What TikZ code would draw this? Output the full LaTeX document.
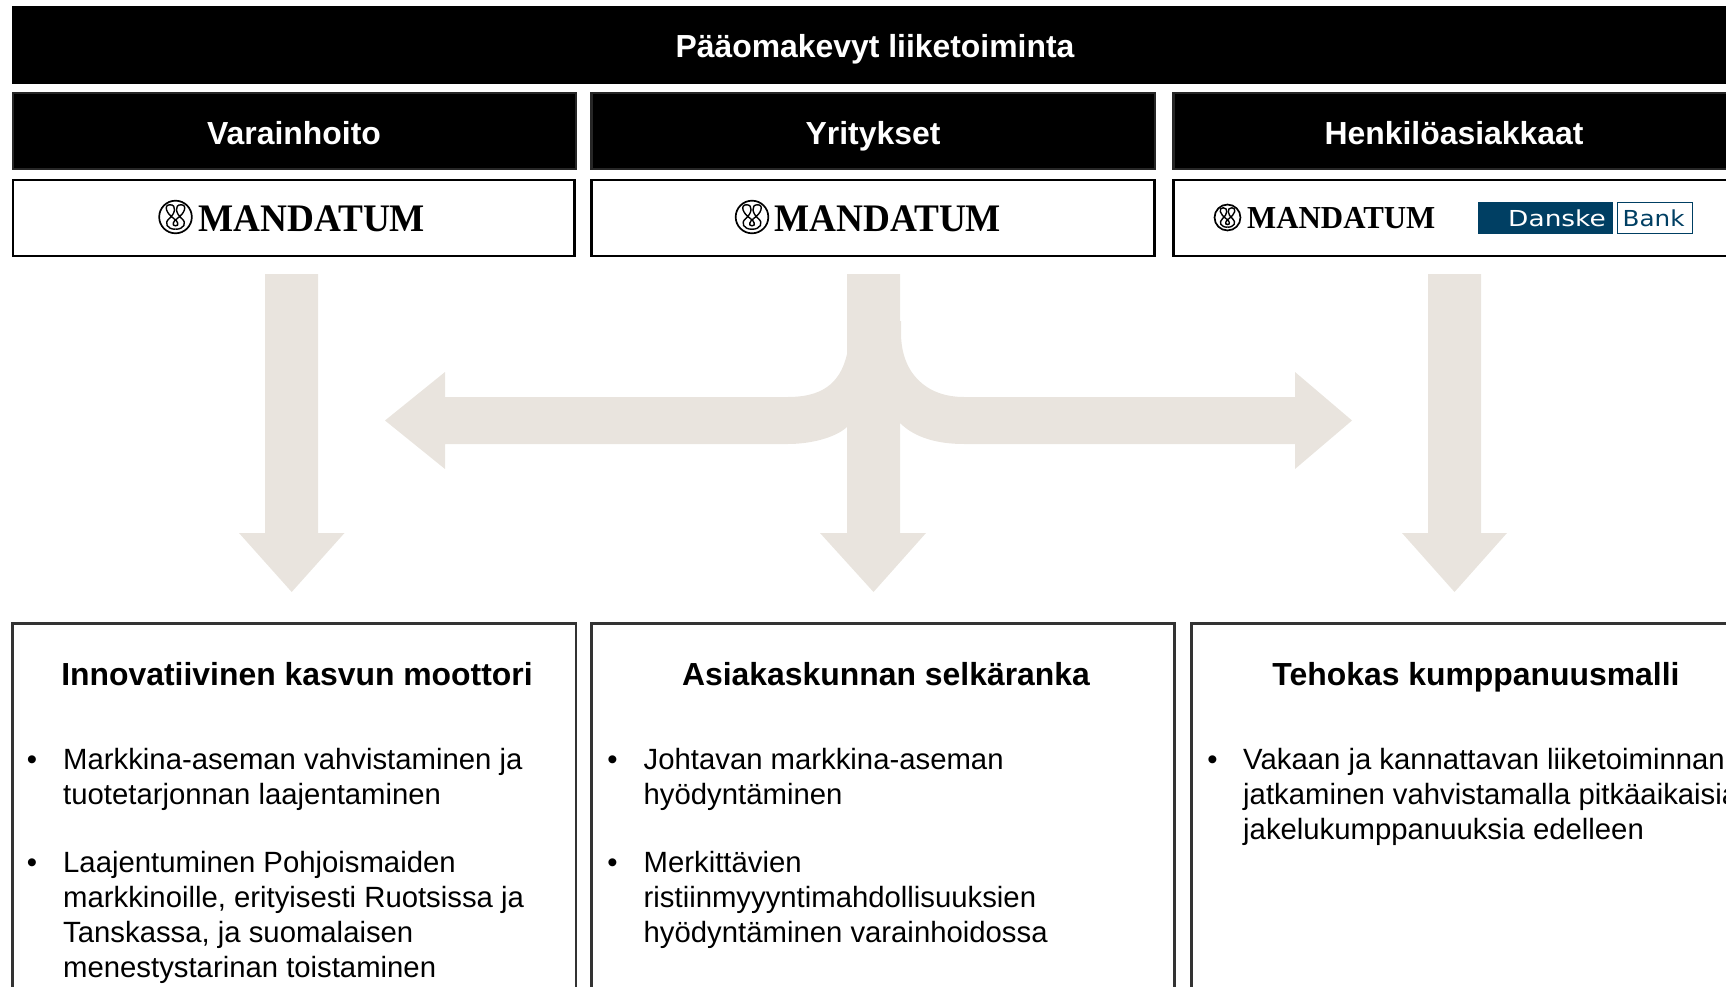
\documentclass[tikz,border=0pt]{standalone}
\usepackage{fontspec}
\setmainfont{Liberation Sans}
\newfontfamily\logoserif{Liberation Serif}
\newfontfamily\bankfont{DejaVu Sans}
\definecolor{arrowgrey}{HTML}{E9E4DE}
\definecolor{bankblue}{HTML}{003F63}
\definecolor{boxedge}{HTML}{333333}
\newcommand{\bodysize}{\fontsize{29.3}{35.2}\selectfont}
\newcommand{\headsize}{\fontsize{31.9}{36}\selectfont\bfseries}
\newcommand{\textlines}[1]{\parbox[t]{560pt}{\bodysize\raggedright #1}}
\tikzset{
  x=1pt,y=-1pt,
  topband/.style={fill=black},
  headbox/.style={draw=black!85,line width=2.5pt,fill=black},
  logobox/.style={draw=black,line width=2.5pt,fill=white},
  panelbox/.style={draw=boxedge,line width=2.5pt,fill=white},
  headtext/.style={anchor=base,text=white,inner sep=0pt,font=\headsize},
  paneltitle/.style={anchor=base,text=black,inner sep=0pt,font=\headsize},
  bodytext/.style={anchor=base west,inner sep=0pt},
  bulletmark/.style={anchor=base,inner sep=0pt,font=\bodysize},
  blockarrow/.style={fill=arrowgrey,draw=none},
  logotext/.style={anchor=base west,inner sep=0pt},
  pics/knotlogo/.style={code={
    \draw[line width=1.7pt] (0,0) circle (.96);
    \draw[line width=1.4pt] (-.08,.1) .. controls (-.55,-.2) and (-.72,-.72) .. (-.32,-.72) .. controls (.08,-.72) and (0,-.2) .. (-.38,.1) .. controls (-.68,.35) and (-.5,.72) .. (0,.72);
    \draw[line width=1.4pt] (.08,.1) .. controls (.55,-.2) and (.72,-.72) .. (.32,-.72) .. controls (-.08,-.72) and (0,-.2) .. (.38,.1) .. controls (.68,.35) and (.5,.72) .. (0,.72);
    \draw[line width=1.4pt] (-.08,.1) .. controls (.14,.25) and (.24,.52) .. (0,.52) .. controls (-.24,.52) and (-.14,.25) .. (.08,.1);
  }}
}
\begin{document}
\begin{tikzpicture}
\useasboundingbox (0,0) rectangle (1726,987);
\clip (0,0) rectangle (1726,987);
% header bands
\fill[topband] (12,6) rectangle (1800,84);
\node[headtext] (top) at (875,58) {Pääomakevyt liiketoiminta};
\draw[headbox] (13,93) rectangle (576,169);
\draw[headbox] (591.5,93) rectangle (1155,169);
\draw[headbox] (1173.5,93) rectangle (1800,169);
\node[headtext] (h1) at (294,144.5) {Varainhoito};
\node[headtext] (h2) at (873,144.5) {Yritykset};
\node[headtext] (h3) at (1454,144.5) {Henkilöasiakkaat};
% logo boxes
\draw[logobox] (13,180) rectangle (574.5,256);
\draw[logobox] (591.5,180) rectangle (1154.5,256);
\draw[logobox] (1173.5,180) rectangle (1800,256);
\pic[scale=17] at (175.5,217) {knotlogo};
\node[logotext,font=\logoserif\bfseries\fontsize{39}{39}\selectfont] (m1) at (198,231) {\scalebox{.955}[1]{MANDATUM}};
\pic[scale=17] at (752,217) {knotlogo};
\node[logotext,font=\logoserif\bfseries\fontsize{39}{39}\selectfont] (m2) at (774,231) {\scalebox{.955}[1]{MANDATUM}};
\pic[scale=13.5] at (1227.5,217.5) {knotlogo};
\node[logotext,font=\logoserif\bfseries\fontsize{32}{32}\selectfont] (m3) at (1247,228.5) {\scalebox{.965}[1]{MANDATUM}};
% Danske Bank logo
\fill[bankblue] (1478,202) rectangle (1612.5,234);
\draw[bankblue,fill=white,line width=1pt] (1617,202.5) rectangle (1692.5,233.5);
\node[anchor=base east,inner sep=0pt,text=white,font=\bankfont\fontsize{22}{22}\selectfont] (dk) at (1606,226.5) {\scalebox{1.2}[1]{Danske}};
\node[anchor=base west,inner sep=0pt,text=bankblue,font=\bankfont\fontsize{22}{22}\selectfont] (bk) at (1622.5,226.5) {\scalebox{1.12}[1]{Bank}};
% block arrows
\fill[blockarrow] (265,274) -- (318,274) -- (318,533) -- (344.5,533) -- (291.7,592) -- (239,533) -- (265,533) -- cycle;
\fill[blockarrow] (1428,274) -- (1481,274) -- (1481,533) -- (1507,533) -- (1454.5,592) -- (1402,533) -- (1428,533) -- cycle;
\fill[blockarrow]
  (847,274) -- (900,274) -- (900,321) -- (901,321) -- (901,333)
  .. controls (901,372) and (925,397) .. (964,397)
  -- (1295,397) -- (1295,372) -- (1352,420.5) -- (1295,469) -- (1295,444)
  -- (964,444) .. controls (938,444) and (915,438) .. (900,423)
  -- (900,533) -- (926,533) -- (873.5,592) -- (820,533) -- (847,533)
  -- (847,427) .. controls (835,438) and (810,444) .. (788,444)
  -- (445,444) -- (445,469) -- (385,420.5) -- (445,372) -- (445,397)
  -- (788,397) .. controls (820,397) and (840,385) .. (847,354) -- cycle;
% lower panels
\draw[panelbox] (12.5,623.5) rectangle (576,1020);
\draw[panelbox] (591.5,623.5) rectangle (1174.5,1020);
\draw[panelbox] (1191.5,623.5) rectangle (1800,1020);
\node[paneltitle] (t1) at (297,685) {Innovatiivinen kasvun moottori};
\node[paneltitle] (t2) at (886,685) {Asiakaskunnan selkäranka};
\node[paneltitle] (t3) at (1476,685) {Tehokas kumppanuusmalli};
% panel 1
\node[bulletmark] (b11) at (32,769) {•};
\node[bodytext] (p11) at (63,769) {\textlines{Markkina-aseman vahvistaminen ja\\tuotetarjonnan laajentaminen}};
\node[bulletmark] (b12) at (32,872) {•};
\node[bodytext] (p12) at (63,872) {\textlines{Laajentuminen Pohjoismaiden\\markkinoille, erityisesti Ruotsissa ja\\Tanskassa, ja suomalaisen\\menestystarinan toistaminen}};
% panel 2
\node[bulletmark] (b21) at (612.5,769) {•};
\node[bodytext] (p21) at (643.5,769) {\textlines{Johtavan markkina-aseman\\hyödyntäminen}};
\node[bulletmark] (b22) at (612.5,872) {•};
\node[bodytext] (p22) at (643.5,872) {\textlines{Merkittävien\\ristiinmyyyntimahdollisuuksien\\hyödyntäminen varainhoidossa}};
% panel 3
\node[bulletmark] (b31) at (1212.5,769) {•};
\node[bodytext] (p31) at (1243,769) {\textlines{Vakaan ja kannattavan liiketoiminnan\\jatkaminen vahvistamalla pitkäaikaisia\\jakelukumppanuuksia edelleen}};
\end{tikzpicture}
\end{document}
